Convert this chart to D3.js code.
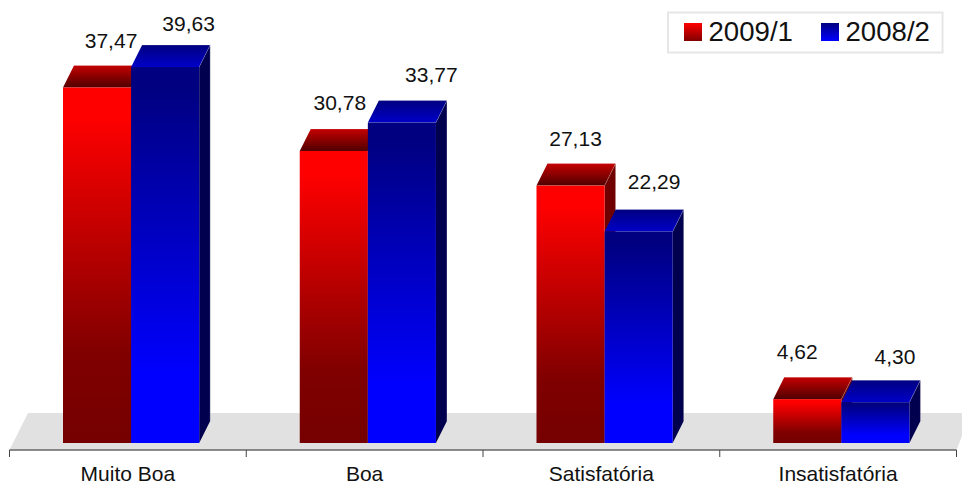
<!DOCTYPE html>
<html><head><meta charset="utf-8">
<script src="https://cdn.jsdelivr.net/npm/d3@7"></script>
<style>html,body{margin:0;padding:0;background:#fff;overflow:hidden}svg{display:block}text{font-family:"Liberation Sans",Arial,sans-serif;fill:#111}</style>
</head><body><svg id="c" width="962" height="482"></svg>
<script>
const categories = ["Muito Boa","Boa","Satisfatória","Insatisfatória"];
const seriesNames = ["2009/1","2008/2"];
const values2009 = [37.47,30.78,27.13,4.62];
const values2008 = [39.63,33.77,22.29,4.30];
// label offsets from the bar's front-top centre, as placed in the source chart
const nudge2009 = [[14,-39.5],[6,-41],[5,-40],[-10,-40]];
const nudge2008 = [[23.5,-36.5],[29.5,-41],[15.5,-43],[19.5,-38]];

const svg = d3.select("#c");
const baseY = 443, axisY = 450, depthX = 11, depthY = 22;
const x0 = d3.scaleBand().domain(categories).range([9.5,956.5]);
const x1 = d3.scaleBand().domain(seriesNames).range([53.5,189.7]);
const y = d3.scaleLinear().domain([0,39.63]).range([baseY,67]);
const fmt = d3.formatLocale({decimal:",",thousands:".",grouping:[3],currency:["",""]}).format(".2f");

const defs = svg.append("defs");
function grad(id,stops){
  const g = defs.append("linearGradient").attr("id",id).attr("x1",0).attr("y1",0).attr("x2",0).attr("y2",1);
  stops.forEach(([o,c])=>g.append("stop").attr("offset",o).attr("stop-color",c));
}
grad("rf",[[0.08,"#ff0000"],[0.75,"#800000"],[1,"#750000"]]);
grad("bf",[[0.05,"#000080"],[0.82,"#0000ff"]]);
grad("rt",[[0,"#c40000"],[1,"#500000"]]);
grad("bt",[[0,"#000080"],[1,"#0000c8"]]);
grad("rs",[[0,"#ff0000"],[1,"#800000"]]);
grad("bs",[[0,"#000080"],[1,"#0000ff"]]);
const styles = [
  {front:"url(#rf)",top:"url(#rt)",side:"#700000"},
  {front:"url(#bf)",top:"url(#bt)",side:"#00004f"}
];

// floor
svg.append("path").attr("fill","#e1e1e1")
  .attr("d",d3.line()([[x0.range()[0],axisY],[x0.range()[0]+18.5,413],[962,413],[962,436],[x0.range()[1],axisY]]));

// axis
const axisG = svg.append("g").attr("transform",`translate(0,${axisY})`);
axisG.append("line").attr("x1",x0.range()[0]).attr("x2",x0.range()[1]).attr("stroke","#666").attr("stroke-width",1.4);
const tickXs = categories.map(c=>x0(c)).concat([x0.range()[1]]);
axisG.selectAll("line.t").data(tickXs).join("line").attr("class","t")
  .attr("x1",d=>d).attr("x2",d=>d).attr("y1",0).attr("y2",7).attr("stroke","#444").attr("stroke-width",1);
axisG.selectAll("text").data(categories).join("text")
  .attr("x",d=>x0(d)+x0.bandwidth()/2).attr("y",31).attr("text-anchor","middle")
  .attr("font-size",21).text(d=>d);

// bars: red first, so the blue bar's top covers the red side where they meet
const all = [values2009,values2008];
const nudges = [nudge2009,nudge2008];
categories.forEach((cat,i)=>{
  [0,1].forEach(s=>{
    const st = styles[s], v = all[s][i];
    const l = x0(cat)+x1(seriesNames[s]), r = l+x1.bandwidth(), t = y(v);
    const line = d3.line();
    const g = svg.append("g");
    g.append("path").attr("fill",st.side).attr("d",line([[r,baseY],[r+depthX,baseY-depthY],[r+depthX,t-depthY],[r,t]])+"Z");
    g.append("path").attr("fill",st.top).attr("d",line([[l,t],[l+depthX,t-depthY],[r+depthX,t-depthY],[r,t]])+"Z");
    g.append("rect").attr("x",l).attr("y",t).attr("width",r-l).attr("height",baseY-t).attr("fill",st.front);
    g.append("path").attr("fill","none").attr("stroke","#fff").attr("stroke-opacity",.3).attr("stroke-width",.7)
      .attr("d",line([[l+depthX,t-depthY],[r+depthX,t-depthY],[r+depthX,baseY-depthY]])+"M"+r+","+t+"L"+(r+depthX)+","+(t-depthY));
  });
});

// data labels
all.forEach((arr,s)=>{
  svg.selectAll("text.l"+s).data(arr).join("text").attr("class","l"+s)
    .attr("x",(d,i)=>x0(categories[i])+x1(seriesNames[s])+x1.bandwidth()/2+nudges[s][i][0])
    .attr("y",(d,i)=>y(d)+nudges[s][i][1])
    .attr("text-anchor","middle").attr("font-size",21).text(d=>fmt(d));
});

// legend
const lg = svg.append("g");
lg.append("rect").attr("x",668).attr("y",12.5).attr("width",274.5).attr("height",40)
  .attr("fill","#fff").attr("stroke","#e6e6e6").attr("stroke-width",2);
const swatches = ["url(#rs)","url(#bs)"], legendX = d3.scaleOrdinal().domain(seriesNames).range([684,821]);
seriesNames.forEach((n,i)=>{
  lg.append("rect").attr("x",legendX(n)).attr("y",23).attr("width",18).attr("height",18).attr("fill",swatches[i]);
  lg.append("text").attr("x",legendX(n)+24.5).attr("y",41).attr("font-size",27.6).text(n);
});
</script></body></html>
